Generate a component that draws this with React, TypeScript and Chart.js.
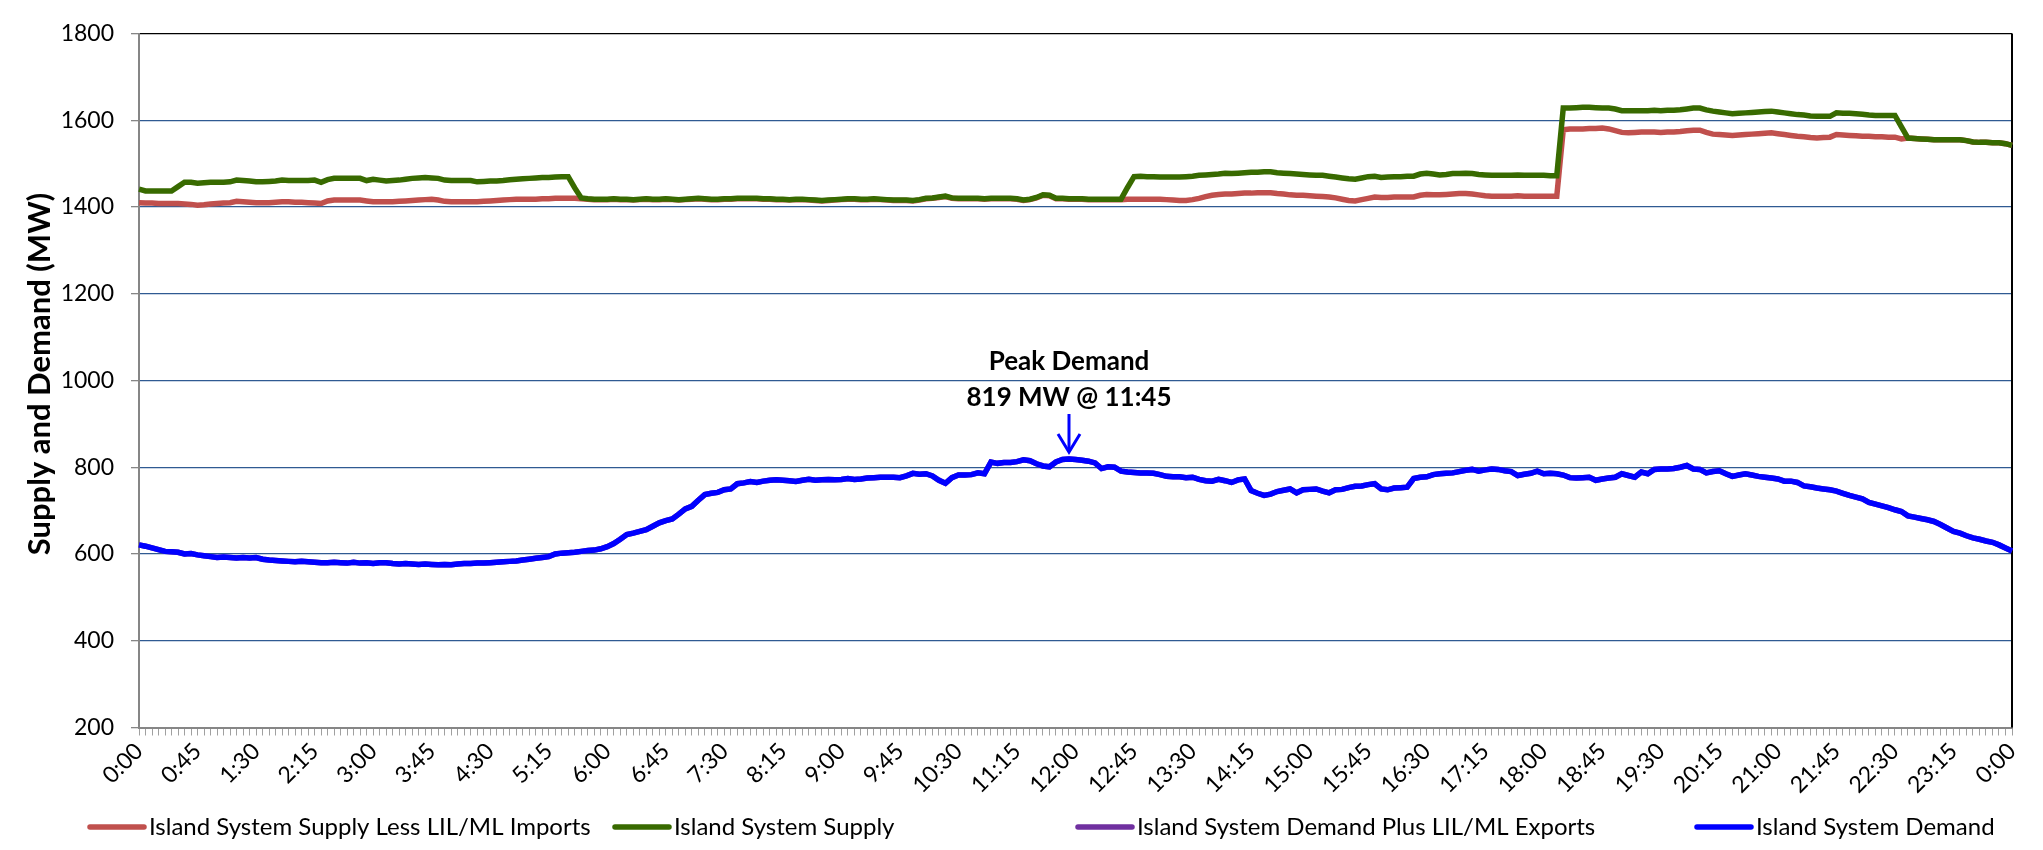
import React, { useEffect, useRef } from 'react';
import { Chart, registerables } from 'chart.js';

Chart.register(...registerables);

// 5-minute categories from 0:00 to 0:00 (next day)
const categories: string[] = [];
for (let m = 0; m <= 1440; m += 5) {
  const h = Math.floor(m / 60) % 24;
  const mm = m % 60;
  categories.push(`${h}:${mm < 10 ? '0' + mm : mm}`);
}
const labelEvery = 9; // one label each 45 minutes

const seriesNames = [
  'Island System Supply Less LIL/ML Imports',
  'Island System Supply',
  'Island System Demand Plus LIL/ML Exports',
  'Island System Demand',
];
const seriesColors = ['#C0504D', '#386A00', '#7030A0', '#0000FF'];

const supplyLessImports: number[] = [
  1410, 1409, 1409, 1408, 1408, 1408, 1408, 1407, 1406, 1404, 1405, 1407,
  1408, 1409, 1410, 1413, 1412, 1411, 1410, 1410, 1410, 1411, 1412, 1412,
  1411, 1411, 1410, 1409, 1408, 1414, 1416, 1416, 1416, 1416, 1416, 1414,
  1412, 1412, 1412, 1412, 1413, 1414, 1415, 1416, 1417, 1418, 1416, 1413,
  1412, 1412, 1412, 1412, 1412, 1413, 1414, 1415, 1416, 1417, 1418, 1418,
  1418, 1418, 1419, 1419, 1420, 1420, 1420, 1420, 1419, 1418, 1417, 1417,
  1417, 1418, 1417, 1417, 1416, 1417, 1418, 1417, 1417, 1418, 1417, 1416,
  1417, 1418, 1419, 1418, 1417, 1417, 1418, 1418, 1419, 1419, 1419, 1419,
  1418, 1418, 1417, 1417, 1416, 1417, 1417, 1416, 1415, 1414, 1415, 1416,
  1417, 1418, 1418, 1417, 1417, 1418, 1417, 1416, 1415, 1415, 1415, 1414,
  1416, 1419, 1420, 1422, 1424, 1420, 1419, 1419, 1419, 1419, 1418, 1419,
  1419, 1419, 1419, 1418, 1415, 1417, 1421, 1427, 1426, 1419, 1419, 1418,
  1418, 1418, 1417, 1417, 1417, 1417, 1417, 1417, 1418, 1418, 1418, 1418,
  1418, 1418, 1417, 1416, 1415, 1415, 1417, 1420, 1424, 1427, 1429, 1430,
  1430, 1431, 1432, 1432, 1433, 1433, 1433, 1431, 1430, 1428, 1427, 1427,
  1426, 1425, 1424, 1423, 1421, 1418, 1415, 1414, 1417, 1420, 1423, 1422,
  1422, 1423, 1423, 1423, 1423, 1427, 1429, 1428, 1428, 1429, 1430, 1431,
  1431, 1430, 1428, 1426, 1425, 1425, 1425, 1425, 1426, 1425, 1425, 1425,
  1425, 1425, 1425, 1578, 1580, 1580, 1580, 1581, 1581, 1582, 1580, 1576,
  1572, 1571, 1572, 1573, 1573, 1573, 1572, 1573, 1573, 1574, 1576, 1577,
  1577, 1572, 1568, 1567, 1566, 1565, 1566, 1567, 1568, 1569, 1570, 1571,
  1569, 1567, 1565, 1563, 1562, 1560, 1559, 1560, 1561, 1567, 1566, 1565,
  1564, 1563, 1563, 1562, 1562, 1561, 1561, 1557, 1559, 1558, 1557, 1556,
  1555, 1555, 1555, 1555, 1555, 1553, 1550, 1549, 1549, 1548, 1548, 1546,
  1542,
];

const supply: number[] = [
  1441, 1437, 1437, 1437, 1437, 1437, 1447, 1457, 1457, 1455, 1456, 1457,
  1457, 1457, 1458, 1462, 1461, 1460, 1458, 1458, 1459, 1460, 1462, 1461,
  1461, 1461, 1461, 1462, 1457, 1463, 1466, 1466, 1466, 1466, 1466, 1461,
  1464, 1462, 1460, 1461, 1462, 1464, 1466, 1467, 1468, 1467, 1466, 1462,
  1461, 1461, 1461, 1461, 1458, 1459, 1460, 1460, 1461, 1463, 1464, 1465,
  1466, 1467, 1468, 1468, 1469, 1470, 1470, 1444, 1421, 1419, 1418, 1418,
  1418, 1419, 1418, 1418, 1417, 1418, 1419, 1418, 1418, 1419, 1418, 1417,
  1418, 1419, 1420, 1419, 1418, 1418, 1419, 1419, 1420, 1420, 1420, 1420,
  1419, 1419, 1418, 1418, 1417, 1418, 1418, 1417, 1416, 1415, 1416, 1417,
  1418, 1419, 1419, 1418, 1418, 1419, 1418, 1417, 1416, 1416, 1416, 1415,
  1417, 1420, 1421, 1423, 1425, 1421, 1420, 1420, 1420, 1420, 1419, 1420,
  1420, 1420, 1420, 1419, 1416, 1418, 1422, 1428, 1427, 1420, 1420, 1419,
  1419, 1419, 1418, 1418, 1418, 1418, 1418, 1418, 1445, 1470, 1471, 1470,
  1470, 1469, 1469, 1469, 1469, 1470, 1471, 1473, 1474, 1475, 1476, 1478,
  1477, 1478, 1479, 1480, 1480, 1481, 1481, 1479, 1478, 1477, 1476, 1475,
  1474, 1473, 1473, 1471, 1469, 1467, 1465, 1464, 1467, 1470, 1471, 1468,
  1469, 1470, 1470, 1471, 1471, 1476, 1478, 1476, 1474, 1475, 1477, 1477,
  1478, 1477, 1475, 1474, 1473, 1473, 1473, 1473, 1474, 1473, 1473, 1473,
  1473, 1472, 1472, 1628, 1628, 1629, 1630, 1630, 1629, 1628, 1628, 1626,
  1622, 1622, 1622, 1622, 1622, 1623, 1622, 1623, 1623, 1624, 1626, 1628,
  1628, 1624, 1621, 1619, 1617, 1615, 1616, 1617, 1618, 1619, 1620, 1621,
  1619, 1617, 1615, 1613, 1612, 1610, 1609, 1609, 1609, 1617, 1616, 1616,
  1615, 1614, 1612, 1611, 1611, 1611, 1611, 1585, 1559, 1558, 1557, 1556,
  1555, 1555, 1555, 1555, 1555, 1553, 1550, 1549, 1549, 1548, 1548, 1546,
  1542,
];

const demand: number[] = [
  621, 618, 614, 610, 606, 605, 604, 600, 601, 598, 596, 594,
  592, 593, 592, 591, 592, 591, 592, 588, 586, 585, 584, 583,
  582, 583, 582, 581, 580, 580, 581, 580, 579, 581, 579, 580,
  578, 580, 580, 578, 577, 578, 577, 576, 577, 576, 575, 576,
  575, 577, 578, 578, 579, 579, 580, 581, 582, 583, 584, 586,
  588, 590, 592, 594, 600, 602, 603, 604, 606, 608, 609, 612,
  617, 624, 634, 645, 648, 652, 656, 664, 672, 677, 681, 692,
  704, 710, 724, 737, 740, 742, 748, 750, 762, 764, 767, 765,
  768, 770, 771, 770, 769, 767, 770, 772, 770, 771, 772, 771,
  772, 774, 772, 773, 775, 776, 777, 777, 777, 776, 780, 786,
  784, 785, 780, 770, 763, 776, 782, 782, 783, 787, 785, 812,
  809, 811, 811, 813, 817, 815, 808, 803, 801, 812, 818, 819,
  818, 816, 814, 810, 797, 801, 800, 791, 789, 788, 787, 787,
  786, 783, 779, 778, 778, 776, 777, 772, 769, 768, 772, 769,
  765, 771, 773, 746, 740, 735, 738, 744, 747, 750, 741, 748,
  749, 750, 745, 741, 748, 749, 753, 756, 757, 760, 762, 750,
  748, 752, 753, 754, 774, 777, 778, 783, 785, 786, 787, 790,
  793, 795, 791, 794, 796, 795, 792, 790, 781, 784, 786, 791,
  785, 786, 785, 782, 776, 775, 776, 777, 770, 773, 775, 777,
  785, 781, 777, 789, 785, 795, 796, 796, 797, 800, 804, 796,
  795, 787, 790, 792, 785, 779, 782, 785, 782, 779, 777, 775,
  773, 768, 768, 765, 757, 755, 752, 750, 748, 745, 740, 735,
  731, 727, 719, 715, 711, 707, 702, 698, 688, 685, 682, 679,
  675, 668, 660, 652, 648, 642, 637, 634, 630, 627, 621, 614,
  607,
];

// Demand plus exports: no exports on this day, coincides with demand (hidden under it)
const demandPlusExports: number[] = demand;

const yMin = 200;
const yMax = 1800;
const yStep = 200;
const yTitle = 'Supply and Demand (MW)';
const peakLines = ['Peak Demand', '819 MW @ 11:45'];

const FONT = 'Lato, "Open Sans", sans-serif';

const legendLineX = [90, 615, 1078, 1697];

const annotationPlugin = {
  id: 'peakAnnot',
  afterDatasetsDraw(chart: any) {
    const { ctx, scales } = chart;
    const max = Math.max(...demand);
    const idx = demand.indexOf(max);
    const x = scales.x.getPixelForValue(idx);
    const y = scales.y.getPixelForValue(max);
    ctx.save();
    // arrow
    ctx.strokeStyle = '#0000FF';
    ctx.lineWidth = 3;
    ctx.lineCap = 'butt';
    const tip = y - 7;
    ctx.beginPath();
    ctx.moveTo(x, y - 45);
    ctx.lineTo(x, tip);
    ctx.stroke();
    ctx.beginPath();
    ctx.moveTo(x - 11, tip - 18);
    ctx.lineTo(x, tip);
    ctx.lineTo(x + 11, tip - 18);
    ctx.stroke();
    // text
    ctx.fillStyle = '#000';
    ctx.font = `bold 26px ${FONT}`;
    ctx.textAlign = 'center';
    ctx.textBaseline = 'middle';
    ctx.fillText(peakLines[0], x, y - 97);
    ctx.fillText(peakLines[1], x, y - 61);
    ctx.restore();
  },
  beforeDatasetsDraw(chart: any) {
    const { ctx, chartArea } = chart;
    ctx.save();
    ctx.strokeStyle = '#000';
    ctx.lineWidth = 2;
    ctx.beginPath();
    ctx.moveTo(chartArea.right, chartArea.top);
    ctx.lineTo(chartArea.right, chartArea.bottom);
    ctx.stroke();
    ctx.restore();
  },
  afterDraw(chart: any) {
    const { ctx } = chart;
    // y-axis title
    ctx.save();
    ctx.translate(40, 374);
    ctx.rotate(-Math.PI / 2);
    ctx.font = `bold 31px ${FONT}`;
    ctx.fillStyle = '#000';
    ctx.textAlign = 'center';
    ctx.textBaseline = 'middle';
    ctx.fillText(yTitle, 0, 0);
    ctx.restore();
    // legend
    const y = 827;
    ctx.save();
    ctx.font = `24px ${FONT}`;
    ctx.textAlign = 'left';
    ctx.textBaseline = 'middle';
    chart.data.datasets.forEach((ds: any, i: number) => {
      const lx = legendLineX[i];
      ctx.strokeStyle = ds.borderColor;
      ctx.lineWidth = 5.5;
      ctx.lineCap = 'round';
      ctx.beginPath();
      ctx.moveTo(lx, y);
      ctx.lineTo(lx + 54, y);
      ctx.stroke();
      ctx.fillStyle = '#000';
      ctx.fillText(ds.label, lx + 59, y);
    });
    ctx.restore();
  },
};

export default function App() {
  const ref = useRef<HTMLCanvasElement | null>(null);
  useEffect(() => {
    if (!ref.current) return;
    const seriesData = [supplyLessImports, supply, demandPlusExports, demand];
    const orders = [4, 3, 2, 1];
    const chart = new Chart(ref.current, {
      type: 'line',
      data: {
        labels: categories,
        datasets: seriesNames.map((name, i) => ({
          label: name,
          data: seriesData[i],
          borderColor: seriesColors[i],
          backgroundColor: seriesColors[i],
          borderWidth: 5.5,
          pointRadius: 0,
          tension: 0,
          fill: false,
          order: orders[i],
        })),
      },
      options: {
        animation: false,
        responsive: false,
        maintainAspectRatio: false,
        layout: { padding: { left: 0, right: 31, top: 33.5, bottom: 42 } },
        plugins: {
          legend: { display: false },
          tooltip: { enabled: false },
        },
        scales: {
          x: {
            type: 'category',
            offset: false,
            afterFit: (s: any) => { s.height = 80.5; },
            border: { color: '#868686', width: 2 },
            grid: {
              display: true,
              drawOnChartArea: false,
              drawTicks: true,
              tickLength: 8,
              tickColor: '#A0A0A0',
              lineWidth: 1,
            },
            ticks: {
              autoSkip: false,
              maxRotation: 45,
              minRotation: 45,
              padding: 2,
              color: '#000',
              font: { family: FONT, size: 23 },
              callback: (_v: any, index: number) => (index % labelEvery === 0 ? categories[index] : ''),
            },
          },
          y: {
            min: yMin,
            max: yMax,
            afterFit: (s: any) => { s.width = 139; },
            border: { color: '#868686', width: 2 },
            grid: {
              color: (c: any) => (c.tick && c.tick.value === yMax ? '#000000' : c.tick && c.tick.value === yMin ? 'rgba(0,0,0,0)' : '#2F5A92'),
              lineWidth: 1.3,
              drawTicks: true,
              tickLength: 8,
              tickColor: '#868686',
            },
            ticks: {
              stepSize: yStep,
              padding: 17,
              color: '#000',
              font: { family: FONT, size: 23 },
              callback: (v: any) => String(v),
            },
            title: { display: false },
          },
        },
      },
      plugins: [annotationPlugin],
    } as any);
    return () => chart.destroy();
  }, []);
  return (
    <div style={{ position: 'fixed', left: 0, top: 0, width: 2043, height: 850, background: '#fff' }}>
      <canvas ref={ref} width={2043} height={850} style={{ width: 2043, height: 850, display: 'block' }} />
    </div>
  );
}
